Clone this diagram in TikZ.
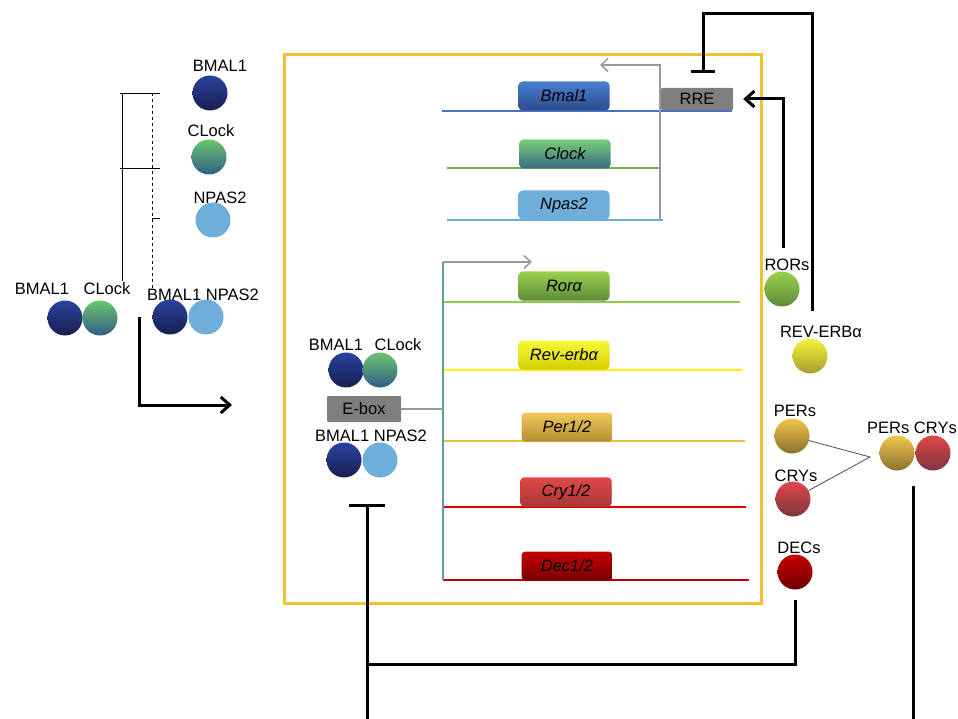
\documentclass[tikz,border=0pt]{standalone}
\usepackage{fontspec}
\setmainfont{Liberation Sans}
\usetikzlibrary{positioning,calc,arrows.meta}

\definecolor{boxyellow}{HTML}{F2C12E}
\definecolor{bmtop}{HTML}{2A42A0}
\definecolor{bmbot}{HTML}{18204F}
\definecolor{cltop}{HTML}{6CC46F}
\definecolor{clbot}{HTML}{2F5E86}
\definecolor{npas}{HTML}{6FAEDB}
\definecolor{rortop}{HTML}{9BD14E}
\definecolor{rorbot}{HTML}{5E8A3A}
\definecolor{revtop}{HTML}{F4F43A}
\definecolor{revbot}{HTML}{A89E30}
\definecolor{pertop}{HTML}{EFC64A}
\definecolor{perbot}{HTML}{8C7030}
\definecolor{crytop}{HTML}{E04848}
\definecolor{crybot}{HTML}{7E3440}
\definecolor{dectop}{HTML}{CC0000}
\definecolor{decbot}{HTML}{6A0000}
\definecolor{rregray}{HTML}{7F7F7F}
\definecolor{tealln}{HTML}{5C9E9A}
% gene boxes and lines
\definecolor{gbmtop}{HTML}{4A7ED2}
\definecolor{gbmbot}{HTML}{2D4B8A}
\definecolor{gbmln}{HTML}{4472C4}
\definecolor{gcltop}{HTML}{78CE78}
\definecolor{gclbot}{HTML}{3A6884}
\definecolor{gclln}{HTML}{70B050}
\definecolor{grorln}{HTML}{92C84A}
\definecolor{grevtop}{HTML}{F8F83A}
\definecolor{grevbot}{HTML}{D4D000}
\definecolor{grevln}{HTML}{FFF200}
\definecolor{gpertop}{HTML}{F2C85A}
\definecolor{gperbot}{HTML}{B48E30}
\definecolor{gperln}{HTML}{F0C040}
\definecolor{gcrybot}{HTML}{A83838}
\definecolor{gcryln}{HTML}{E00000}
\definecolor{gdectop}{HTML}{C40000}
\definecolor{gdecbot}{HTML}{7A0000}
\definecolor{gdecln}{HTML}{C00000}

\tikzset{
	txt/.style={font=\fontsize{16.5}{19}\selectfont,inner sep=1pt},
	prot/.style 2 args={circle,minimum size=35pt,inner sep=0pt,top color=#1,bottom color=#2},
	gene/.style 2 args={rounded corners=4pt,minimum width=91pt,minimum height=29pt,inner sep=0pt,top color=#1,bottom color=#2,font=\fontsize{16.5}{19}\selectfont\itshape},
	dna/.style={line width=2pt},
	blk/.style={line width=3pt,black},
	act/.style={blk,-{Straight Barb[length=9pt,width=16pt]}},
	inh/.style={blk,-{Bar[width=#1]}},
	gry/.style={line width=1.5pt,gray!80,-{Straight Barb[length=7pt,width=13pt]}},
}

\begin{document}
\begin{tikzpicture}[x=1pt,y=-1pt]
	\useasboundingbox (0,0) rectangle (958,719);
	\draw[boxyellow,line width=3pt] (284,55) rectangle (761,603);

	% single proteins and the bracket
	\node[txt] (bmall) at (220,66) {BMAL1};
	\node[prot={bmtop}{bmbot}] (bmal) at (210,93) {};
	\node[txt] (clockl) at (211,131) {CLock};
	\node[prot={cltop}{clbot}] (clock) at (209,157) {};
	\node[txt] (npasl) at (220,198) {NPAS2};
	\node[circle,minimum size=35pt,inner sep=0pt,fill=npas] (npas) at (213,220) {};
	\draw[line width=0.8pt] (120,93) -- (160,93);
	\draw[line width=0.8pt] (120,168) -- (160,168);
	\draw[line width=0.8pt] (122,93) -- (122,281);
	\draw[line width=0.8pt,dashed] (152,93) -- (152,288);
	\draw[line width=0.8pt] (152,218) -- (160,218);

	% dimers
	\node[txt] (pairAl) at (42,289) {BMAL1};
	\node[txt] (pairAr) at (107,289) {CLock};
	\node[prot={bmtop}{bmbot}] (bmalA) at (65,318) {};
	\node[prot={cltop}{clbot}] (clockA) at (100,318) {};
	\node[txt] (pairBl) at (203,295) {BMAL1 NPAS2};
	\node[prot={bmtop}{bmbot}] (bmalB) at (170,317) {};
	\node[circle,minimum size=35pt,inner sep=0pt,fill=npas] (npasB) at (206,317) {};
	\coordinate (arrstart) at (139,317);
	\coordinate (arrend) at (232,405);
	\draw[act] (arrstart) |- (arrend);

	% RRE genes
	\draw[dna,gbmln] (442,111) -- (732,111);
	\node[gene={gbmtop}{gbmbot}] (bmalg) at (564,96) {Bmal1};
	\draw[dna,gclln] (447,168) -- (660,168);
	\node[gene={gcltop}{gclbot}] (clockg) at (565,154) {Clock};
	\draw[dna,npas] (447,220) -- (663,220);
	\node[gene={npas}{npas}] (npasg) at (564,205) {Npas2};
	\node[txt,fill=rregray,minimum width=72pt,minimum height=22pt,inner sep=0pt,rounded corners=1pt] (rre) at (697,99) {RRE};
	\coordinate (rrebot) at (660,220);
	\draw[gry] (rrebot) |- (600,65);

	% E-box genes
	\draw[dna,grorln] (443,302) -- (740,302);
	\node[gene={rortop}{rorbot}] (rorg) at (564,286) {Rorα};
	\draw[dna,grevln] (443,370) -- (743,370);
	\node[gene={grevtop}{grevbot}] (revg) at (564,355) {Rev-erbα};
	\draw[dna,gperln] (443,441) -- (745,441);
	\node[gene={gpertop}{gperbot}] (perg) at (567,427) {Per1/2};
	\draw[dna,gcryln] (443,507) -- (746,507);
	\node[gene={crytop}{gcrybot},draw=red!85] (cryg) at (566,492) {Cry1/2};
	\draw[dna,gdecln] (443,580) -- (749,580);
	\node[gene={gdectop}{gdecbot}] (decg) at (567,566) {Dec1/2};
	\coordinate (eline) at (443,580);
	\draw[tealln,line width=2.5pt] (eline) -- (443,262);
	\draw[gry] (443,262) -- (532,262);

	\node[txt] (bcl) at (336,345) {BMAL1};
	\node[txt] (bcr) at (398,345) {CLock};
	\node[prot={bmtop}{bmbot}] (bmalC) at (346,370) {};
	\node[prot={cltop}{clbot}] (clockC) at (380,370) {};
	\node[txt,fill=rregray,minimum width=74pt,minimum height=26pt,inner sep=0pt,rounded corners=1pt] (ebox) at (364,409) {E-box};
	\draw[gray!80,line width=1.5pt] (ebox.east) -- (ebox.east -| eline);
	\node[txt] (bnl) at (371,436) {BMAL1 NPAS2};
	\node[prot={bmtop}{bmbot}] (bmalD) at (344,460) {};
	\node[circle,minimum size=35pt,inner sep=0pt,fill=npas] (npasD) at (380,460) {};

	% feedback proteins
	\node[txt] (rorl) at (787,265) {RORs};
	\node[prot={rortop}{rorbot}] (ror) at (782,289) {};
	\node[txt] (revl) at (821,332) {REV-ERBα};
	\node[prot={revtop}{revbot}] (rev) at (810,356) {};
	\draw[act] ([xshift=-4pt,yshift=10pt]rorl.north) |- ([xshift=10pt]rre.east);
	\draw[inh=24pt] ([xshift=-9pt,yshift=14pt]revl.north) |- ([xshift=6pt,yshift=74pt]rre.north) -- ([xshift=6pt,yshift=15pt]rre.north);

	\node[txt] (persl) at (795,411) {PERs};
	\node[prot={pertop}{perbot}] (pers) at (792,436) {};
	\node[txt] (crysl) at (796,476) {CRYs};
	\node[prot={crytop}{crybot}] (crys) at (793,499) {};
	\node[txt] (decsl) at (799,548) {DECs};
	\node[prot={dectop}{decbot}] (decs) at (795,572) {};
	\coordinate (join) at (870,457);
	\draw[line width=0.8pt,gray!60!black] (pers) -- (join) -- (crys);
	\node[txt] (pcl) at (912,428) {PERs CRYs};
	\node[prot={pertop}{perbot}] (persE) at (897,453) {};
	\node[prot={crytop}{crybot}] (crysE) at (933,453) {};
	\coordinate (pctop) at (913,486);
	\coordinate (pcbot) at (913,719);
	\draw[blk] (pctop) -- (pcbot);

	% repression of the E-box
	\coordinate (tbot) at (367,719);
	\coordinate (ttop) at (367,504);
	\coordinate (tjoin) at (367,664);
	\draw[inh=36pt] (tbot) -- (ttop);
	\draw[blk] ([yshift=-10pt]decs.south) |- (tjoin);
\end{tikzpicture}
\end{document}
